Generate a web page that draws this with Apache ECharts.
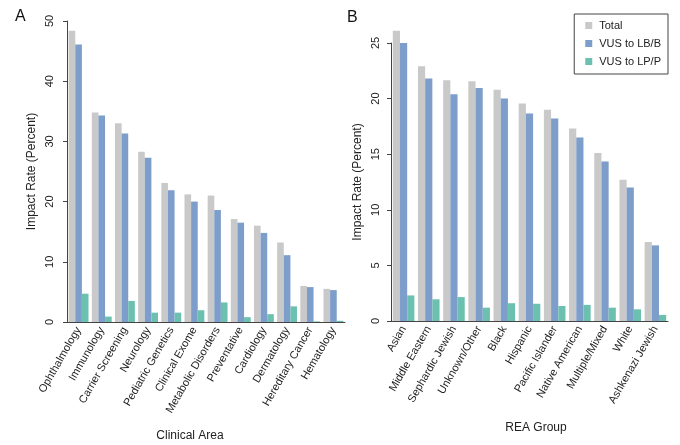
<!DOCTYPE html>
<html>
<head>
<meta charset="utf-8">
<script src="https://cdn.jsdelivr.net/npm/echarts@6/dist/echarts.min.js"></script>
<style>
  html, body { margin: 0; padding: 0; background: #fff; }
  #chart { width: 680px; height: 445px; }
</style>
</head>
<body>
<div id="chart"></div>
<script>
// Panel A - clinical areas
var clinicalAreas = ['Ophthalmology', 'Immunology', 'Carrier Screening', 'Neurology', 'Pediatric Genetics',
    'Clinical Exome', 'Metabolic Disorders', 'Preventative', 'Cardiology', 'Dermatology',
    'Hereditary Cancer', 'Hematology'];
var areaTotal = [48.4, 34.8, 33.0, 28.3, 23.1, 21.2, 21.0, 17.1, 16.0, 13.2, 6.0, 5.5];
var areaBenign = [46.1, 34.3, 31.3, 27.3, 21.9, 20.0, 18.6, 16.5, 14.8, 11.1, 5.8, 5.3];
var areaPathogenic = [4.7, 0.9, 3.5, 1.55, 1.55, 1.95, 3.25, 0.8, 1.3, 2.6, 0.1, 0.2];

// Panel B - REA groups
var reaGroups = ['Asian', 'Middle Eastern', 'Sephardic Jewish', 'Unknown/Other', 'Black', 'Hispanic',
    'Pacific Islander', 'Native American', 'Multiple/Mixed', 'White', 'Ashkenazi Jewish'];
var reaTotal = [26.1, 22.9, 21.65, 21.55, 20.8, 19.55, 19.0, 17.3, 15.1, 12.7, 7.1];
var reaBenign = [25.0, 21.8, 20.4, 20.95, 20.0, 18.65, 18.2, 16.5, 14.35, 12.0, 6.8];
var reaPathogenic = [2.3, 1.95, 2.15, 1.2, 1.6, 1.55, 1.35, 1.45, 1.2, 1.05, 0.55];

var seriesNames = ['Total', 'VUS to LB/B', 'VUS to LP/P'];
var colors = ['#c9c9c9', '#7d9dca', '#6cc0b0'];

var font = 'Liberation Sans, Arial, Helvetica, sans-serif';
var axisColor = '#444';

function makeXAxis(gridIndex, cats) {
    return {
        type: 'category',
        gridIndex: gridIndex,
        data: cats,
        axisLine: { lineStyle: { color: axisColor, width: 1 } },
        axisTick: { alignWithLabel: true, length: 4, lineStyle: { color: axisColor } },
        axisLabel: { interval: 0, rotate: 60, margin: 6, fontSize: 11, color: '#222', fontFamily: font }
    };
}

function makeYAxis(gridIndex, max, interval, labelMargin, nameGap) {
    return {
        type: 'value',
        gridIndex: gridIndex,
        min: 0,
        max: max,
        interval: interval,
        name: 'Impact Rate (Percent)',
        nameLocation: 'middle',
        nameGap: nameGap,
        nameTextStyle: { fontSize: 12, color: '#222', fontFamily: font },
        axisLine: { show: true, lineStyle: { color: axisColor, width: 1 } },
        axisTick: { show: true, length: 4, lineStyle: { color: axisColor } },
        axisLabel: { rotate: 90, margin: labelMargin, fontSize: 11, color: '#222', fontFamily: font },
        splitLine: { show: false }
    };
}

function makeSeries(gridIndex, values) {
    return values.map(function(v, i) {
        return {
            name: seriesNames[i],
            type: 'bar',
            xAxisIndex: gridIndex,
            yAxisIndex: gridIndex,
            data: v,
            clip: false,   // Asian total goes above the 25 tick
            barGap: '0%',
            barCategoryGap: '14.3%',
            itemStyle: { color: colors[i] },
            emphasis: { disabled: true }
        };
    });
}

var myChart = echarts.init(document.getElementById('chart'), null, { renderer: 'canvas' });

var option = {
    backgroundColor: '#fff',
    animation: false,
    textStyle: { fontFamily: font },
    title: [
        { text: 'A', left: 10, top: 4, textStyle: { fontSize: 16, fontWeight: 'normal', color: '#111' } },
        { text: 'B', left: 342, top: 5, textStyle: { fontSize: 16, fontWeight: 'normal', color: '#111' } }
    ],
    legend: {
        data: seriesNames,
        orient: 'vertical',
        right: 12,
        top: 14,
        itemWidth: 7,
        itemHeight: 7,
        itemGap: 7,
        padding: [6, 7, 7, 11],
        borderColor: '#444',
        borderWidth: 1,
        icon: 'rect',
        textStyle: { fontSize: 11, color: '#222', fontFamily: font, padding: [0, 0, 0, 2] }
    },
    grid: [
        { left: 67, top: 21, width: 278, height: 301 },
        { left: 391, top: 43, width: 277, height: 278 }
    ],
    xAxis: [makeXAxis(0, clinicalAreas), makeXAxis(1, reaGroups)],
    yAxis: [makeYAxis(0, 50, 10, 12, 29), makeYAxis(1, 25, 5, 10, 27)],
    series: makeSeries(0, [areaTotal, areaBenign, areaPathogenic])
        .concat(makeSeries(1, [reaTotal, reaBenign, reaPathogenic])),
    graphic: [
        { type: 'text', x: 190, y: 436, style: { text: 'Clinical Area', fontSize: 12, fontFamily: font, fill: '#222', textAlign: 'center', textVerticalAlign: 'middle' } },
        { type: 'text', x: 536, y: 428, style: { text: 'REA Group', fontSize: 12, fontFamily: font, fill: '#222', textAlign: 'center', textVerticalAlign: 'middle' } }
    ]
};

myChart.setOption(option);
</script>
</body>
</html>
